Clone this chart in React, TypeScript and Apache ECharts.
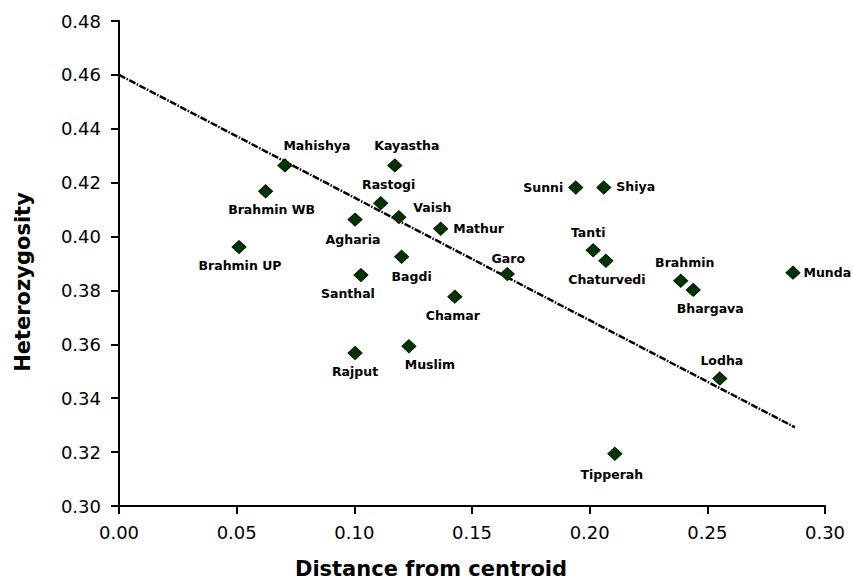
import React, { useEffect, useRef } from "react";
import * as echarts from "echarts";

const names = [
  "Brahmin UP", "Brahmin WB", "Mahishya", "Agharia", "Rajput", "Santhal", "Rastogi",
  "Kayastha", "Vaish", "Bagdi", "Muslim", "Mathur", "Chamar", "Garo", "Sunni", "Shiya",
  "Tanti", "Chaturvedi", "Tipperah", "Brahmin", "Bhargava", "Lodha", "Munda",
];
const distance = [
  0.0510, 0.0623, 0.0705, 0.1003, 0.1003, 0.1028, 0.1112,
  0.1172, 0.1189, 0.1201, 0.1232, 0.1367, 0.1427, 0.1650, 0.1941, 0.2060,
  0.2015, 0.2069, 0.2107, 0.2387, 0.2440, 0.2553, 0.2864,
];
const heterozygosity = [
  0.3961, 0.4168, 0.4264, 0.4063, 0.3568, 0.3857, 0.4124,
  0.4264, 0.4072, 0.3925, 0.3593, 0.4029, 0.3777, 0.3861, 0.4182, 0.4182,
  0.3949, 0.3910, 0.3194, 0.3836, 0.3802, 0.3473, 0.3866,
];
const trendX = [0, 0.2872];
const trendY = [0.46, 0.3292];

const xTitle = "Distance from centroid";
const yTitle = "Heterozygosity";

// label placement (style only)
const labelPlace: Record<string, { position: string; offset: number[] }> = {
  "Brahmin UP": { position: "bottom", offset: [1, 0] },
  "Brahmin WB": { position: "bottom", offset: [6, 0] },
  Mahishya: { position: "top", offset: [32, -1] },
  Agharia: { position: "bottom", offset: [-2, 1] },
  Rajput: { position: "bottom", offset: [0, 0] },
  Santhal: { position: "bottom", offset: [-13, 0] },
  Rastogi: { position: "top", offset: [8, 0] },
  Kayastha: { position: "top", offset: [12, -1] },
  Vaish: { position: "right", offset: [2, -10] },
  Bagdi: { position: "bottom", offset: [10, 1] },
  Muslim: { position: "bottom", offset: [21, 0] },
  Mathur: { position: "right", offset: [0, 0] },
  Chamar: { position: "bottom", offset: [-2, 0] },
  Garo: { position: "top", offset: [1, 3] },
  Sunni: { position: "left", offset: [0, 0] },
  Shiya: { position: "right", offset: [0, -1] },
  Tanti: { position: "top", offset: [-5, 1] },
  Chaturvedi: { position: "bottom", offset: [1, 0] },
  Tipperah: { position: "bottom", offset: [-3, 2] },
  Brahmin: { position: "top", offset: [4, 0] },
  Bhargava: { position: "bottom", offset: [17, 0] },
  Lodha: { position: "top", offset: [2, 0] },
  Munda: { position: "right", offset: [-2, 0] },
};

const GRID = { left: 119, right: 28, top: 21, bottom: 77 };

export default function App() {
  const ref = useRef<HTMLDivElement>(null);
  useEffect(() => {
    if (!ref.current) return;
    const chart = echarts.init(ref.current, undefined, { renderer: "svg" });
    const points = names.map((n, i) => ({
      name: n,
      value: [distance[i], heterozygosity[i]],
      label: {
        show: true,
        formatter: n,
        position: labelPlace[n].position as any,
        offset: labelPlace[n].offset,
      },
    }));
    const tickLabel = {
      color: "#000",
      fontSize: 18,
      fontFamily: "'DejaVu Sans', sans-serif",
      formatter: (v: number) => v.toFixed(2),
    };
    chart.setOption({
      animation: false,
      backgroundColor: "#ffffff",
      grid: { ...GRID, containLabel: false },
      graphic: [
        {
          type: "text",
          x: 431,
          y: 569,
          style: {
            text: xTitle,
            fontFamily: "'DejaVu Sans', sans-serif",
            fontWeight: "bold",
            fontSize: 21,
            fill: "#000",
            align: "center",
            verticalAlign: "middle",
          },
        },
        {
          type: "text",
          x: 23,
          y: 282,
          rotation: Math.PI / 2,
          style: {
            text: yTitle,
            fontFamily: "'DejaVu Sans', sans-serif",
            fontWeight: "bold",
            fontSize: 21,
            fill: "#000",
            align: "center",
            verticalAlign: "middle",
          },
        },
      ],
      xAxis: {
        type: "value",
        min: 0,
        max: 0.3,
        interval: 0.05,
        axisLine: { show: true, onZero: false, lineStyle: { color: "#000", width: 2 } },
        axisTick: { show: true, inside: false, length: 8, lineStyle: { color: "#000", width: 2 } },
        axisLabel: { ...tickLabel, margin: 17 },
        splitLine: { show: false },
      },
      yAxis: {
        type: "value",
        min: 0.3,
        max: 0.48,
        interval: 0.02,
        axisLine: { show: true, onZero: false, lineStyle: { color: "#000", width: 2 } },
        axisTick: { show: true, inside: false, length: 8, lineStyle: { color: "#000", width: 2 } },
        axisLabel: { ...tickLabel, margin: 18 },
        splitLine: { show: false },
      },
      series: [
        {
          type: "line",
          data: trendX.map((x, i) => [x, trendY[i]]),
          showSymbol: false,
          symbol: "none",
          lineStyle: { color: "#000", width: 2.5, type: [7, 1.5, 1.5, 1.5] },
          silent: true,
          z: 1,
        },
        {
          type: "scatter",
          data: points,
          symbol: "diamond",
          symbolSize: [14, 13],
          itemStyle: { color: "#003300", borderColor: "#001a00", borderWidth: 1, opacity: 1 },
          label: {
            color: "#000",
            fontSize: 12.5,
            fontWeight: "bold",
            fontFamily: "'DejaVu Sans', sans-serif",
            distance: 5,
          },
          z: 2,
        },
      ],
    });
    return () => chart.dispose();
  }, []);
  return (
    <div
      ref={ref}
      style={{ position: "fixed", left: 0, top: 0, width: 853, height: 583, background: "#fff" }}
    />
  );
}
